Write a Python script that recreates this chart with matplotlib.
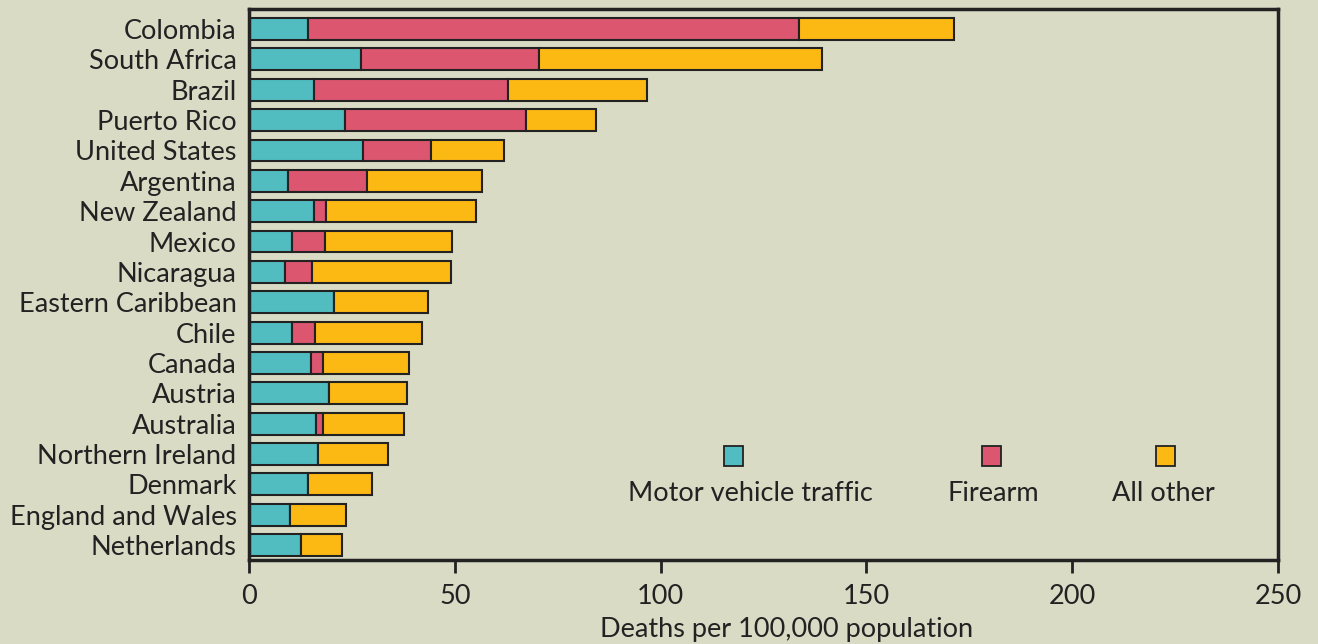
import matplotlib.pyplot as plt
from matplotlib.patches import Rectangle

plt.rcParams['font.family'] = ['Lato', 'DejaVu Sans']

# values (deaths per 100,000)
countries = ["Colombia", "South Africa", "Brazil", "Puerto Rico", "United States",
             "Argentina", "New Zealand", "Mexico", "Nicaragua", "Eastern Caribbean",
             "Chile", "Canada", "Austria", "Australia", "Northern Ireland",
             "Denmark", "England and Wales", "Netherlands"]
motor = [14.3, 27.2, 15.8, 23.3, 27.7, 9.5, 15.8, 10.4, 8.7, 20.7,
         10.4, 15.1, 19.4, 16.3, 16.8, 14.3, 10.0, 12.6]
firearm = [119.3, 43.3, 47.1, 44.0, 16.5, 19.2, 2.9, 8.1, 6.6, 0.0,
           5.6, 2.9, 0.0, 1.7, 0.0, 0.0, 0.0, 0.0]
other = [37.7, 68.7, 33.8, 17.0, 17.8, 27.9, 36.5, 30.8, 33.8, 22.8,
         26.0, 20.9, 19.0, 19.7, 17.0, 15.6, 13.6, 10.0]
series_names = ["Motor vehicle traffic", "Firearm", "All other"]

bg = "#d9dbc5"
colors = ["#52bdc0", "#dc5670", "#fdb913"]
edge = "#222222"
fs = 19.5

fig = plt.figure(figsize=(13.18, 6.44), dpi=100, facecolor=bg)
ax = fig.add_axes([249 / 1318, 1 - 560 / 644, (1278 - 249) / 1318, (560 - 9) / 644])
ax.set_facecolor(bg)

y = list(range(len(countries)))
left = [0.0] * len(countries)
for vals, c in zip([motor, firearm, other], colors):
    ax.barh(y, vals, left=left, height=0.72, color=c, edgecolor=edge, linewidth=1.5)
    left = [l + v for l, v in zip(left, vals)]

ax.set_xlim(0, 250)
ax.set_ylim(17.49, -0.66)
ax.set_yticks(y)
ax.set_yticklabels(countries, fontsize=fs, color="#222222")
ax.tick_params(axis='y', length=0, pad=9)
ax.set_xticks([0, 50, 100, 150, 200, 250])
ax.tick_params(axis='x', direction='out', length=9, width=2, labelsize=fs,
               colors="#222222", pad=8)
ax.set_xlabel("Deaths per 100,000 population", fontsize=fs, color="#222222", labelpad=6)
ax.xaxis.label.set_x(0.522)
for s in ax.spines.values():
    s.set_linewidth(2.5)
    s.set_color("#222222")

# legend: swatches above labels
swatch_x = [0.4704, 0.7211, 0.8902]
text_x = [0.4869, 0.7230, 0.8882]
for name, c, sx, tx in zip(series_names, colors, swatch_x, text_x):
    ax.add_patch(Rectangle((sx - 0.0092, 0.1715), 0.0185, 0.0345, transform=ax.transAxes,
                           facecolor=c, edgecolor=edge, linewidth=1.3, clip_on=False))
    ax.text(tx, 0.12, name, transform=ax.transAxes, ha='center', va='center',
            fontsize=fs, color="#222222")

fig.savefig("out.png", dpi=100, facecolor=bg)
